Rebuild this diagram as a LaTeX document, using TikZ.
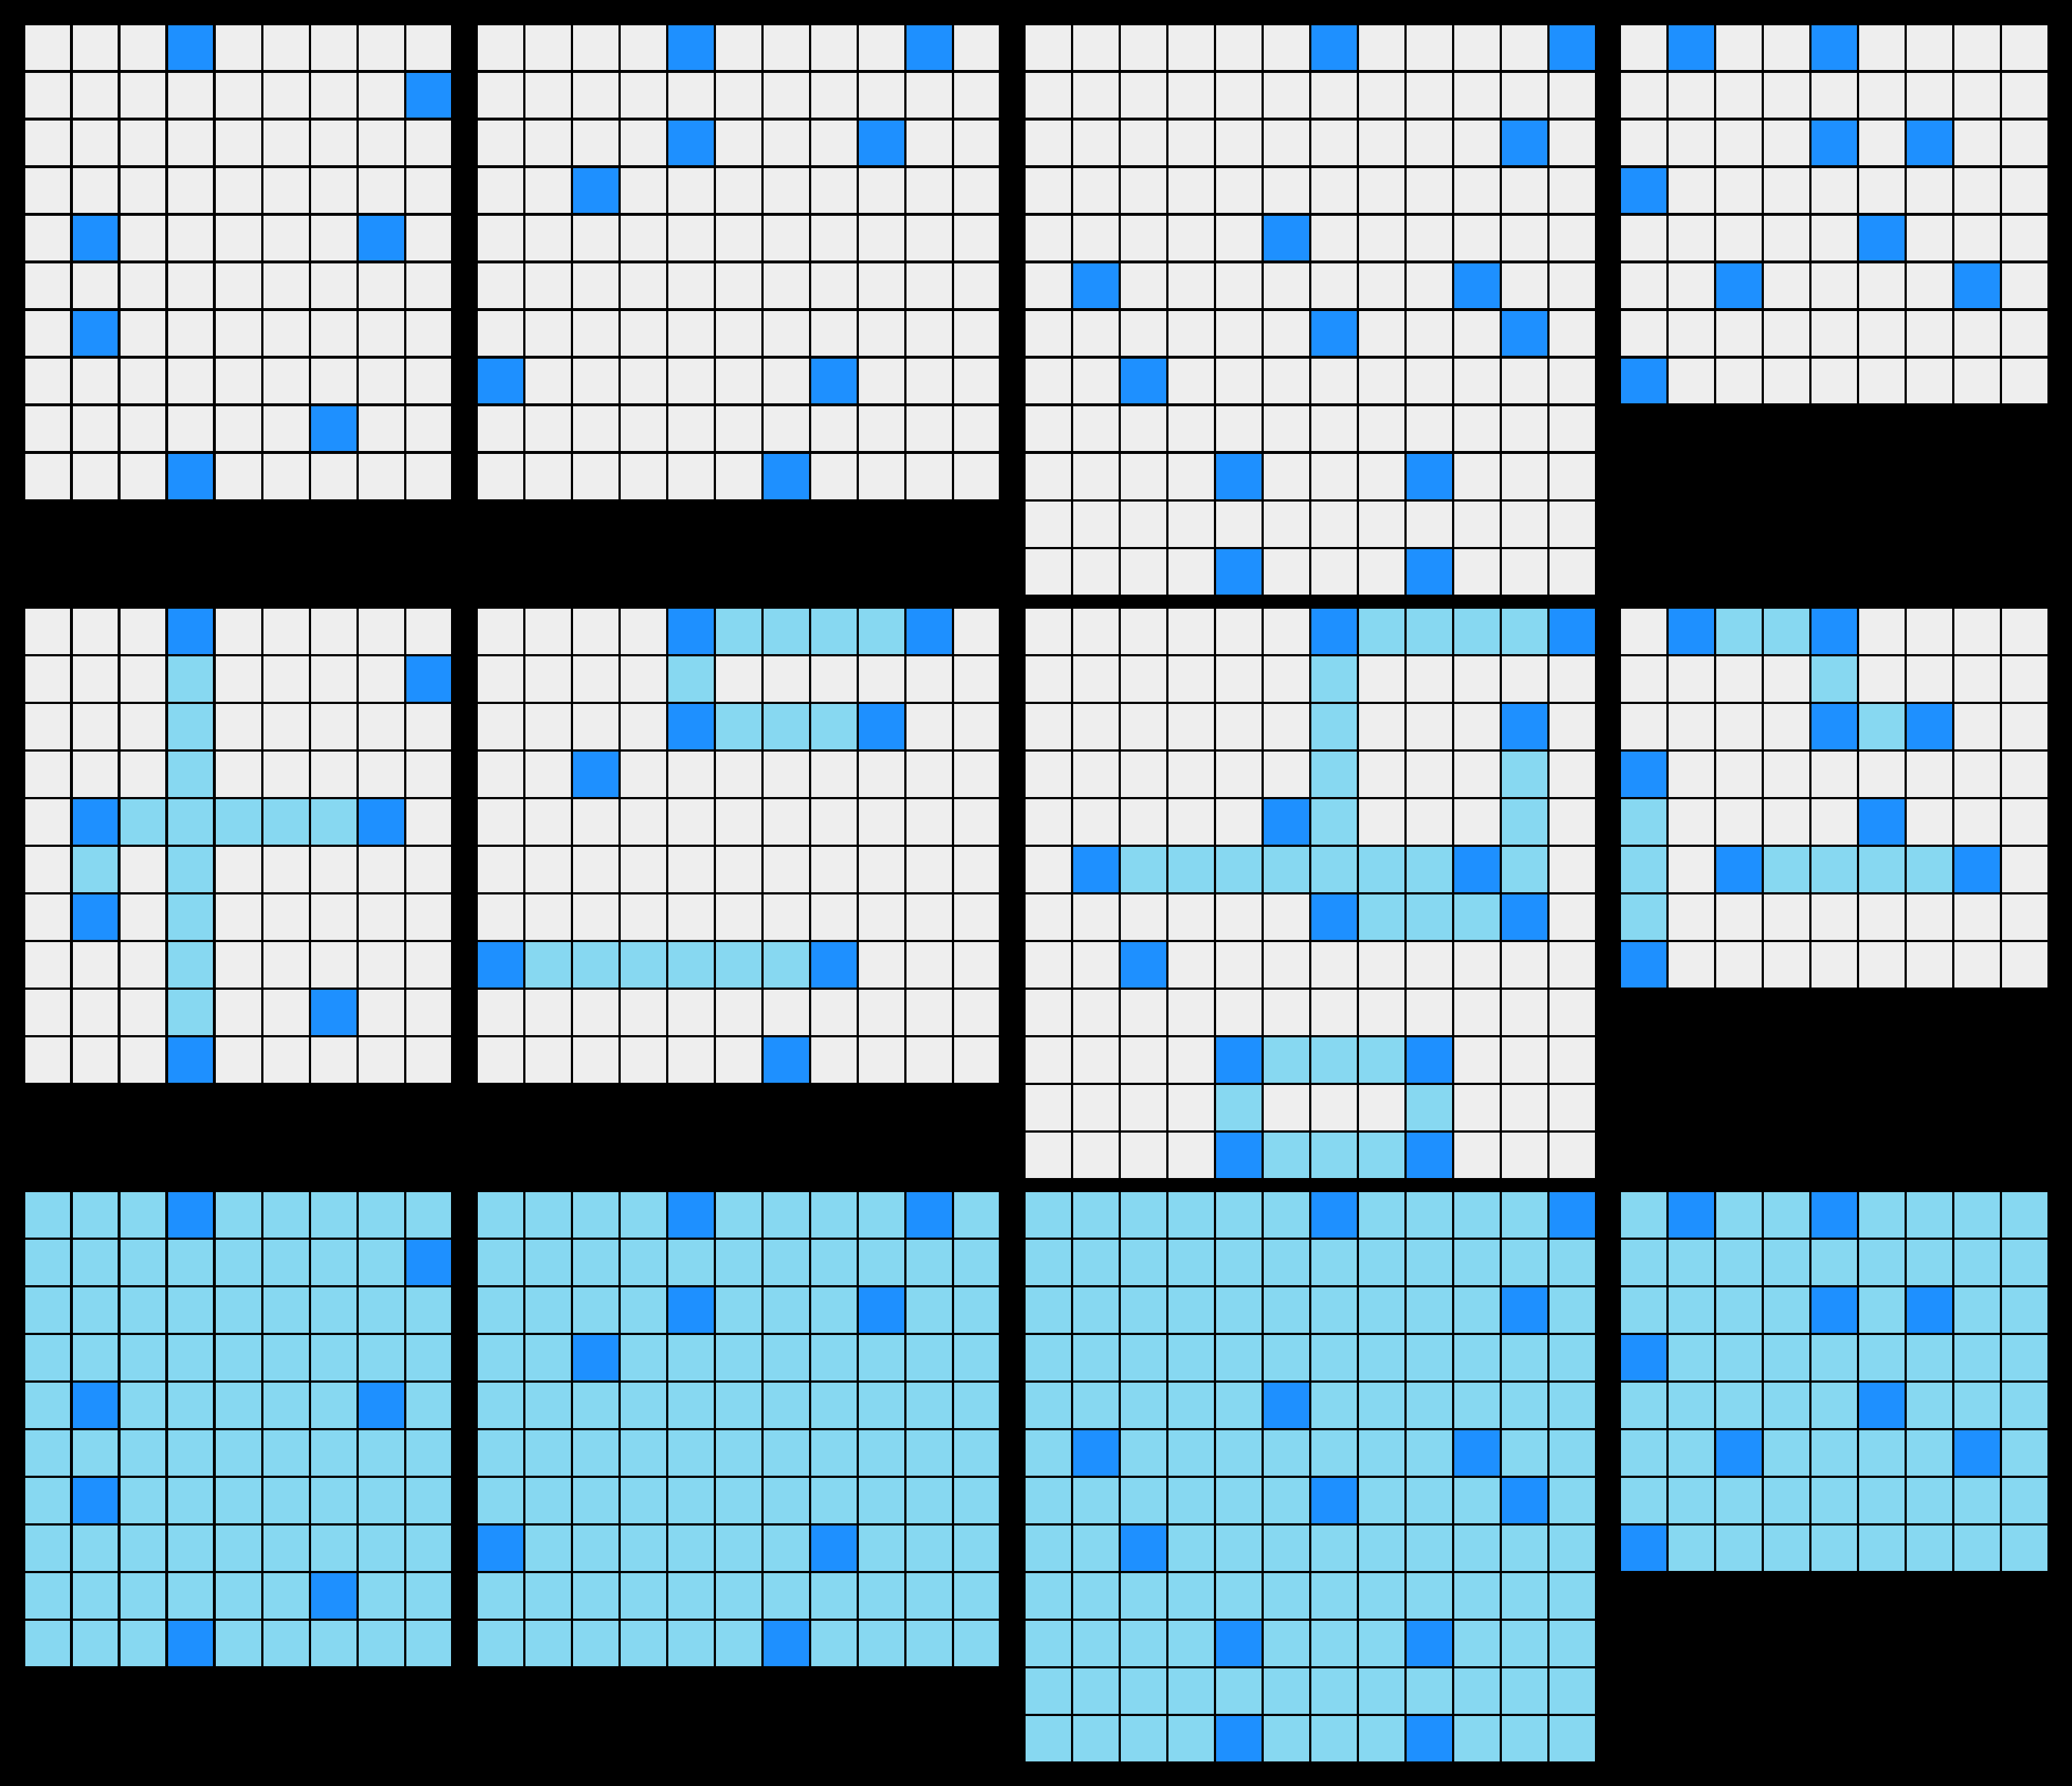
\documentclass[tikz,border=0pt]{standalone}
\usepackage{tikz}
\definecolor{cellgray}{HTML}{EEEEEE}
\definecolor{cellblue}{HTML}{1E90FF}
\definecolor{celllight}{HTML}{87D8F1}

\begin{document}
\begin{tikzpicture}[
  seed/.style={fill=cellblue},
  trail/.style={fill=celllight},
  gridline/.style={black, line width=0.047cm}]
  \fill[black] (0,0) rectangle (43.5,-37.5);
  \useasboundingbox (0,0) rectangle (43.5,-37.5);
  % first pair, input
  \begin{scope}[shift={(0.5,-0.5)}]
    \fill[cellgray] (0,0) rectangle (9,-10);
    \foreach \cx/\ry in {3/0,8/1,1/4,7/4,1/6,6/8,3/9}
      \fill[seed] (\cx,-\ry) rectangle ++(1,-1);
    \draw[gridline] (0,0) grid (9,-10);
  \end{scope}
  % second pair, input
  \begin{scope}[shift={(10,-0.5)}]
    \fill[cellgray] (0,0) rectangle (11,-10);
    \foreach \cx/\ry in {4/0,9/0,4/2,8/2,2/3,0/7,7/7,6/9}
      \fill[seed] (\cx,-\ry) rectangle ++(1,-1);
    \draw[gridline] (0,0) grid (11,-10);
  \end{scope}
  % third pair, input
  \begin{scope}[shift={(21.5,-0.5)}]
    \fill[cellgray] (0,0) rectangle (12,-12);
    \foreach \cx/\ry in {6/0,11/0,10/2,5/4,1/5,9/5,6/6,10/6,2/7,4/9,8/9,4/11,8/11}
      \fill[seed] (\cx,-\ry) rectangle ++(1,-1);
    \draw[gridline] (0,0) grid (12,-12);
  \end{scope}
  % test, input
  \begin{scope}[shift={(34,-0.5)}]
    \fill[cellgray] (0,0) rectangle (9,-8);
    \foreach \cx/\ry in {1/0,4/0,4/2,6/2,0/3,5/4,2/5,7/5,0/7}
      \fill[seed] (\cx,-\ry) rectangle ++(1,-1);
    \draw[gridline] (0,0) grid (9,-8);
  \end{scope}

  % first pair, output
  \begin{scope}[shift={(0.5,-12.75)}]
    \fill[cellgray] (0,0) rectangle (9,-10);
    \fill[trail] (3,-1) rectangle (4,-9);
    \fill[trail] (2,-4) rectangle (7,-5);
    \fill[trail] (1,-5) rectangle (2,-6);
    \foreach \cx/\ry in {3/0,8/1,1/4,7/4,1/6,6/8,3/9}
      \fill[seed] (\cx,-\ry) rectangle ++(1,-1);
    \draw[gridline] (0,0) grid (9,-10);
  \end{scope}
  % second pair, output
  \begin{scope}[shift={(10,-12.75)}]
    \fill[cellgray] (0,0) rectangle (11,-10);
    \fill[trail] (5,0) rectangle (9,-1);
    \fill[trail] (4,-1) rectangle (5,-2);
    \fill[trail] (5,-2) rectangle (8,-3);
    \fill[trail] (1,-7) rectangle (7,-8);
    \foreach \cx/\ry in {4/0,9/0,4/2,8/2,2/3,0/7,7/7,6/9}
      \fill[seed] (\cx,-\ry) rectangle ++(1,-1);
    \draw[gridline] (0,0) grid (11,-10);
  \end{scope}
  % third pair, output
  \begin{scope}[shift={(21.5,-12.75)}]
    \fill[cellgray] (0,0) rectangle (12,-12);
    \fill[trail] (7,0) rectangle (11,-1);
    \fill[trail] (6,-1) rectangle (7,-6);
    \fill[trail] (10,-3) rectangle (11,-6);
    \fill[trail] (2,-5) rectangle (9,-6);
    \fill[trail] (7,-6) rectangle (10,-7);
    \fill[trail] (5,-9) rectangle (8,-10);
    \fill[trail] (4,-10) rectangle (5,-11);
    \fill[trail] (8,-10) rectangle (9,-11);
    \fill[trail] (5,-11) rectangle (8,-12);
    \foreach \cx/\ry in {6/0,11/0,10/2,5/4,1/5,9/5,6/6,10/6,2/7,4/9,8/9,4/11,8/11}
      \fill[seed] (\cx,-\ry) rectangle ++(1,-1);
    \draw[gridline] (0,0) grid (12,-12);
  \end{scope}
  % test, output
  \begin{scope}[shift={(34,-12.75)}]
    \fill[cellgray] (0,0) rectangle (9,-8);
    \fill[trail] (2,0) rectangle (4,-1);
    \fill[trail] (4,-1) rectangle (5,-2);
    \fill[trail] (5,-2) rectangle (6,-3);
    \fill[trail] (0,-4) rectangle (1,-7);
    \fill[trail] (3,-5) rectangle (7,-6);
    \foreach \cx/\ry in {1/0,4/0,4/2,6/2,0/3,5/4,2/5,7/5,0/7}
      \fill[seed] (\cx,-\ry) rectangle ++(1,-1);
    \draw[gridline] (0,0) grid (9,-8);
  \end{scope}

  % first pair, filled
  \begin{scope}[shift={(0.5,-25)}]
    \fill[trail] (0,0) rectangle (9,-10);
    \foreach \cx/\ry in {3/0,8/1,1/4,7/4,1/6,6/8,3/9}
      \fill[seed] (\cx,-\ry) rectangle ++(1,-1);
    \draw[gridline] (0,0) grid (9,-10);
  \end{scope}
  % second pair, filled
  \begin{scope}[shift={(10,-25)}]
    \fill[trail] (0,0) rectangle (11,-10);
    \foreach \cx/\ry in {4/0,9/0,4/2,8/2,2/3,0/7,7/7,6/9}
      \fill[seed] (\cx,-\ry) rectangle ++(1,-1);
    \draw[gridline] (0,0) grid (11,-10);
  \end{scope}
  % third pair, filled
  \begin{scope}[shift={(21.5,-25)}]
    \fill[trail] (0,0) rectangle (12,-12);
    \foreach \cx/\ry in {6/0,11/0,10/2,5/4,1/5,9/5,6/6,10/6,2/7,4/9,8/9,4/11,8/11}
      \fill[seed] (\cx,-\ry) rectangle ++(1,-1);
    \draw[gridline] (0,0) grid (12,-12);
  \end{scope}
  % test, filled
  \begin{scope}[shift={(34,-25)}]
    \fill[trail] (0,0) rectangle (9,-8);
    \foreach \cx/\ry in {1/0,4/0,4/2,6/2,0/3,5/4,2/5,7/5,0/7}
      \fill[seed] (\cx,-\ry) rectangle ++(1,-1);
    \draw[gridline] (0,0) grid (9,-8);
  \end{scope}
\end{tikzpicture}
\end{document}
